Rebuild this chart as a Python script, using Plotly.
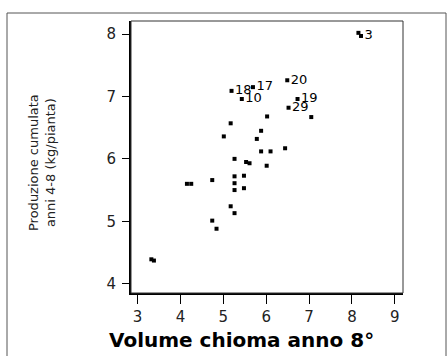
import plotly.graph_objects as go

# Data
volume = [8.15, 8.21, 5.19, 5.69, 5.43, 6.49, 6.73, 6.52,
          7.05, 6.02, 5.17, 5.01, 5.88, 5.78, 5.88, 6.10, 6.44,
          5.26, 5.53, 5.61, 6.01, 5.48, 5.26, 5.26, 5.26, 5.48,
          4.74, 4.15, 4.25, 5.17, 5.26, 4.74, 4.84, 3.32, 3.38]
produzione = [8.02, 7.97, 7.09, 7.15, 6.96, 7.26, 6.96, 6.82,
              6.67, 6.68, 6.57, 6.36, 6.45, 6.32, 6.12, 6.12, 6.17,
              6.00, 5.95, 5.93, 5.89, 5.73, 5.72, 5.61, 5.50, 5.53,
              5.66, 5.60, 5.60, 5.24, 5.13, 5.01, 4.88, 4.39, 4.37]
etichette = ["", "3", "18", "17", "10", "20", "19", "29",
             "", "", "", "", "", "", "", "", "",
             "", "", "", "", "", "", "", "", "",
             "", "", "", "", "", "", "", "", ""]

x_ticks = [3, 4, 5, 6, 7, 8, 9]
y_ticks = [4, 5, 6, 7, 8]
x_title = "Volume chioma anno 8°"
y_title = "Produzione cumulata<br>anni 4-8 (kg/pianta)"

font = "DejaVu Sans, Verdana, sans-serif"

fig = go.Figure()
fig.add_trace(go.Scatter(
    x=volume, y=produzione, mode="markers+text", text=etichette,
    textposition="middle right",
    textfont=dict(family=font, size=13, color="black"),
    marker=dict(symbol="square", size=4, color="black", line=dict(width=0)),
    cliponaxis=False, hoverinfo="skip", showlegend=False,
))

L, R, T, B = 131, 45, 21, 63
W, H = 448, 356
pw, ph = W - L - R, H - T - B

fig.update_layout(
    width=W, height=H,
    margin=dict(l=L, r=R, t=T, b=B),
    paper_bgcolor="white", plot_bgcolor="white",
    font=dict(family=font, color="black", size=14),
    xaxis=dict(range=[2.845, 9.19], tickvals=x_ticks, ticks="outside",
               ticklen=9, tickwidth=1, tickcolor="black", showgrid=False,
               zeroline=False, showline=True, linecolor="black", linewidth=2,
               tickfont=dict(size=15, family=font, color="#222")),
    yaxis=dict(range=[3.85, 8.21], tickvals=y_ticks, ticks="outside",
               ticklen=7, tickwidth=1, tickcolor="black", showgrid=False,
               zeroline=False, showline=True, linecolor="black", linewidth=2,
               ticklabelstandoff=3,
               tickfont=dict(size=15, family=font, color="#222")),
    annotations=[
        dict(text="<b>" + x_title + "</b>", xref="paper", yref="paper",
             x=(241 - L) / pw, y=-(340 - (T + ph)) / ph,
             xanchor="center", yanchor="middle", showarrow=False,
             font=dict(size=20, family=font, color="black")),
        dict(text=y_title, xref="paper", yref="paper",
             x=(42 - L) / pw, y=1 - (163 - T) / ph, textangle=-90,
             xanchor="center", yanchor="middle", showarrow=False,
             font=dict(size=13, family=font, color="#222")),
    ],
    shapes=[
        dict(type="rect", xref="paper", yref="paper", x0=0, x1=1, y0=0, y1=1,
             line=dict(color="#333", width=1)),
        dict(type="rect", xref="paper", yref="paper",
             x0=(7 - L) / pw, x1=(446 - L) / pw, y0=-0.30, y1=1 + (T - 13) / ph,
             line=dict(color="#555", width=1)),
    ],
)

fig.write_html("out.html")
